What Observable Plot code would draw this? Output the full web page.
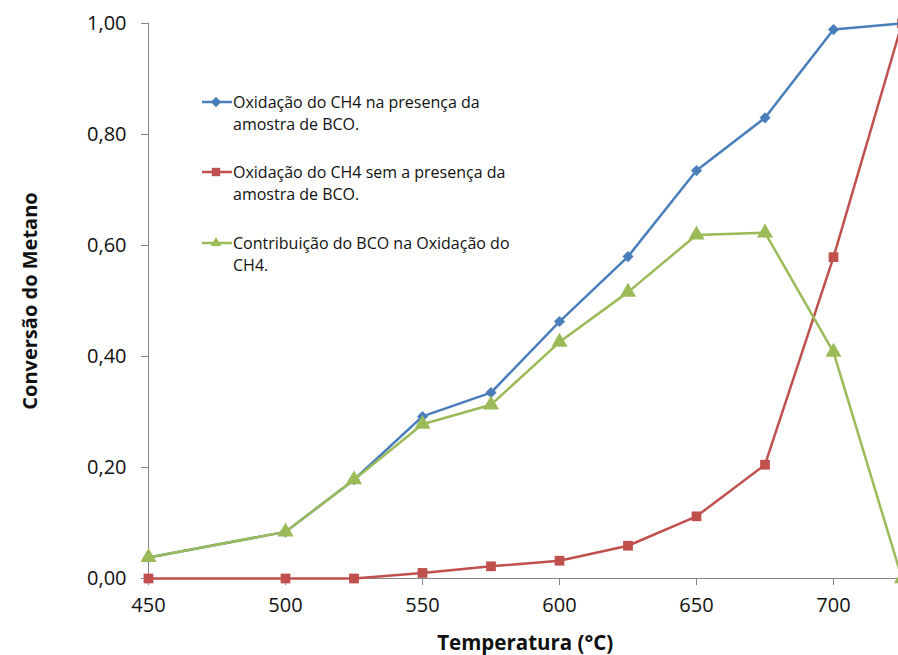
<!DOCTYPE html>
<html>
<head>
<meta charset="utf-8">
<script src="https://cdn.jsdelivr.net/npm/d3@7"></script>
<script src="https://cdn.jsdelivr.net/npm/@observablehq/plot@0.6"></script>
<style>
  html, body { margin: 0; padding: 0; background: #fff; overflow: hidden; }
  #wrap { position: relative; width: 898px; height: 655px; }
  #legend { position: absolute; left: 0; top: 0; font-family: "Open Sans", sans-serif; font-size: 16px; color: #111; }
  .item { position: absolute; left: 200px; display: flex; align-items: flex-start; }
  .item svg { flex: none; }
  .item div { line-height: 22px; white-space: nowrap; }
</style>
</head>
<body>
<div id="wrap"><div id="legend"></div></div>
<script>
const temperatures = [450, 500, 525, 550, 575, 600, 625, 650, 675, 700, 725];
const comAmostra = [0.038, 0.084, 0.178, 0.292, 0.335, 0.463, 0.580, 0.735, 0.830, 0.989, 1.000];
const semAmostra = [0.000, 0.000, 0.000, 0.010, 0.022, 0.032, 0.059, 0.112, 0.205, 0.579, 1.000];
const contribuicao = [0.038, 0.084, 0.178, 0.278, 0.313, 0.426, 0.516, 0.619, 0.623, 0.408, 0.000];
const yTicks = [0, 0.2, 0.4, 0.6, 0.8, 1.0];
const xTicks = [450, 500, 550, 600, 650, 700];
const seriesNames = [
  "Oxidação do CH4 na presença da\namostra de BCO.",
  "Oxidação do CH4 sem a presença da\namostra de BCO.",
  "Contribuição do BCO na Oxidação do\nCH4."
];
const colors = ["#4A7EBB", "#C0504D", "#9BBB59"];
const symbols = ["diamond2", "square", "triangle"];
const valueSets = [comAmostra, semAmostra, contribuicao];

const data = [];
valueSets.forEach((vals, s) => {
  vals.forEach((v, i) => data.push({series: s, t: temperatures[i], v}));
});

const fmt = d => d.toFixed(2).replace(".", ",");
const axisGray = "#878787";

const marks = [
  Plot.ruleX([450], {y1: 0, y2: 1, stroke: axisGray, strokeWidth: 1}),
  Plot.ruleY([0], {stroke: axisGray, strokeWidth: 1}),
  Plot.axisY({ticks: yTicks, tickFormat: fmt, tickSize: 7, tickPadding: 15, stroke: axisGray, fontSize: 20, fill: "#111", label: null}),
  Plot.axisX({ticks: xTicks, tickFormat: d => String(d), tickSize: 7, tickPadding: 12, stroke: axisGray, fontSize: 20, fill: "#111", label: null}),
  Plot.text(["Conversão do Metano"], {frameAnchor: "left", textAnchor: "middle", lineAnchor: "middle", dx: -118, rotate: -90, fontSize: 20, fontWeight: "bold", fill: "#111"}),
  Plot.text(["Temperatura (°C)"], {frameAnchor: "bottom", textAnchor: "middle", lineAnchor: "middle", dy: 65, fontSize: 20.5, fontWeight: "bold", fill: "#111"})
];
[1, 0, 2].forEach(s => {
  const d = data.filter(r => r.series === s);
  marks.push(Plot.line(d, {x: "t", y: "v", stroke: colors[s], strokeWidth: 2.5}));
});
[1, 0, 2].forEach(s => {
  const d = data.filter(r => r.series === s);
  const r = s === 0 ? 5 : s === 1 ? 5.5 : 6;
  marks.push(Plot.dot(d, {x: "t", y: "v", symbol: () => symbols[s], fill: colors[s], stroke: "none", r}));
});

const chart = Plot.plot({
  width: 898,
  height: 655,
  marginLeft: 148,
  marginTop: 23,
  marginBottom: 77,
  marginRight: -3.5,
  style: {fontFamily: "'Open Sans', sans-serif", background: "#fff", overflow: "hidden"},
  x: {domain: [450, 725]},
  y: {domain: [0, 1]},
  symbol: {type: "identity"},
  marks
});
document.getElementById("wrap").prepend(chart);

// legend overlay
const legend = document.getElementById("legend");
const tops = [91, 161, 232];
seriesNames.forEach((name, s) => {
  const item = document.createElement("div");
  item.className = "item";
  item.style.top = tops[s] + "px";
  const sw = d3.create("svg").attr("width", 33).attr("height", 22);
  sw.append("line").attr("x1", 2).attr("x2", 32).attr("y1", 11).attr("y2", 11)
    .attr("stroke", colors[s]).attr("stroke-width", 2.5);
  const sym = s === 0 ? d3.symbolDiamond2 : s === 1 ? d3.symbolSquare2 : d3.symbolTriangle2;
  const size = s === 0 ? 70 : s === 1 ? 90 : 80;
  sw.append("path").attr("d", d3.symbol(sym, size)()).attr("transform", "translate(16,11)").attr("fill", colors[s]);
  item.appendChild(sw.node());
  const txt = document.createElement("div");
  txt.innerHTML = name.split("\n").join("<br>");
  item.appendChild(txt);
  legend.appendChild(item);
});
</script>
</body>
</html>
